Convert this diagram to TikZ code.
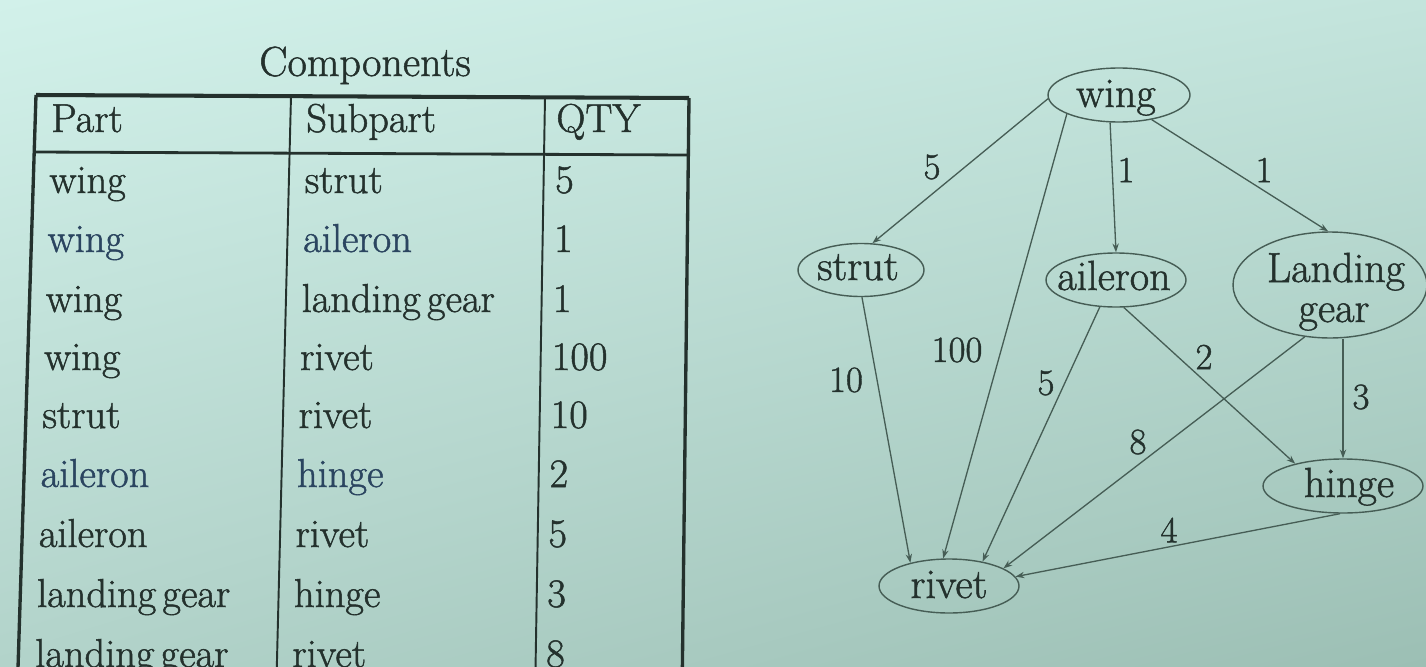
\documentclass[tikz,border=0pt]{standalone}
\usepackage{fontspec}
\setmainfont{Latin Modern Roman}[RawFeature={embolden=1.2}]
\usetikzlibrary{shapes.geometric,arrows.meta,shadings}
\definecolor{ink}{HTML}{24312D}
\definecolor{inkb}{HTML}{2B4560}
\definecolor{edgec}{HTML}{465D55}
\definecolor{bgA}{HTML}{D2F1EA}
\definecolor{bgB}{HTML}{C3E4DC}
\definecolor{bgC}{HTML}{B2D3CA}
\definecolor{bgD}{HTML}{9CBFB4}
\begin{document}
\begin{tikzpicture}[x=0.02cm,y=-0.02cm,
  ttxt/.style={font=\fontsize{23}{27}\selectfont, text=ink, inner sep=0pt, anchor=base west},
  gtxt/.style={font=\fontsize{24}{28}\selectfont, text=ink, inner sep=0pt, anchor=base},
  elab/.style={font=\fontsize{21}{25}\selectfont, text=ink, inner sep=0pt, anchor=center},
  gnode/.style={draw=edgec, line width=0.8pt, ellipse, inner sep=0pt},
  tline/.style={draw=ink, line width=1.1pt},
  tborder/.style={draw=ink, line width=1.9pt},
  edge/.style={draw=edgec, line width=0.75pt, -{Stealth[length=5pt,width=3.6pt]}}]
\useasboundingbox (0,0) rectangle (1426,666);
\clip (0,0) rectangle (1426,666);
\shade[upper left=bgA, upper right=bgB, lower left=bgC, lower right=bgD] (0,0) rectangle (1426,666);

% ---------- table ----------
\node[ttxt, anchor=base, font=\fontsize{24}{28}\selectfont] (title) at (365,76) {Components};
\draw[tborder, line width=2.3pt] (36,95) -- (689,98);
\draw[tborder] (36,95) -- (17,700);
\draw[tborder] (689,98) -- (682,700);
\draw[tborder, line width=1.6pt] (36,152) -- (689,155);
\draw[tline] (291,96) -- (276,700);
\draw[tline] (545,97) -- (535,700);

\node[ttxt] (hp) at (51,132) {Part};
\node[ttxt] (hs) at (306,132) {Subpart};
\node[ttxt] (hq) at (556,132) {QTY};

\foreach \yb/\pa/\sb/\qt/\cl [count=\i] in {
  193/wing/strut/5/ink,
  252/wing/aileron/1/inkb,
  312/wing/landing\kern-0.15em\ gear/1/ink,
  370/wing/rivet/100/ink,
  428/strut/rivet/10/ink,
  487/aileron/hinge/2/inkb,
  547/aileron/rivet/5/ink,
  607/landing\kern-0.15em\ gear/hinge/3/ink,
  667/landing\kern-0.15em\ gear/rivet/8/ink}{
  \node[ttxt, text=\cl] (p\i) at ({51-0.03*(\yb-132)},\yb) {\pa};
  \node[ttxt, text=\cl] (s\i) at ({306-0.026*(\yb-132)},\yb) {\sb};
  \node[ttxt] (q\i) at ({556-0.019*(\yb-132)},\yb) {\qt};
}

% ---------- graph ----------
\node[gnode, minimum width=2.84cm, minimum height=1.08cm] (wing) at (1119,95) {};
\node[gnode, minimum width=2.52cm, minimum height=1.06cm] (strut) at (861,270) {};
\node[gnode, minimum width=2.80cm, minimum height=1.08cm] (ail) at (1116,280) {};
\node[gnode, minimum width=3.88cm, minimum height=2.12cm] (lg) at (1330,285) {};
\node[gnode, minimum width=3.20cm, minimum height=1.08cm] (hinge) at (1343,486) {};
\node[gnode, minimum width=2.80cm, minimum height=1.08cm] (rivet) at (949,586) {};

\node[gtxt] (wingt) at (1116,107) {wing};
\node[gtxt] (strutt) at (858,280) {strut};
\node[gtxt] (ailt) at (1114,290) {aileron};
\node[gtxt] (lgt1) at (1336,282) {Landing};
\node[gtxt] (lgt2) at (1334,322) {gear};
\node[gtxt] (hinget) at (1349,497) {hinge};
\node[gtxt] (rivett) at (949,598) {rivet};

\draw[edge] (wing.183) -- (strut.67);
\draw[edge] (wing.200) -- (rivet.102);
\draw[edge] (wing.252) -- (ail.90);
\draw[edge] (wing.323) -- (lg.92);
\draw[edge] (strut.272) -- (rivet.149);
\draw[edge] (ail.239) -- (rivet.36);
\draw[edge] (ail.286) -- (hinge.155);
\draw[edge] (lg.244) -- (rivet.18);
\draw[edge] (lg.south -| hinge.north) -- (hinge.north);
\draw[edge] (hinge.264) -- (rivet.8);

\node[elab] (l1) at (932,167) {5};
\node[elab] (l2) at (957,350) {100};
\node[elab] (l3) at (1126,170) {1};
\node[elab] (l4) at (1264,170) {1};
\node[elab] (l5) at (846,380) {10};
\node[elab] (l6) at (1046,383) {5};
\node[elab] (l7) at (1204,357) {2};
\node[elab] (l8) at (1138,442) {8};
\node[elab] (l9) at (1361,397) {3};
\node[elab] (l10) at (1169,530) {4};
\end{tikzpicture}
\end{document}
